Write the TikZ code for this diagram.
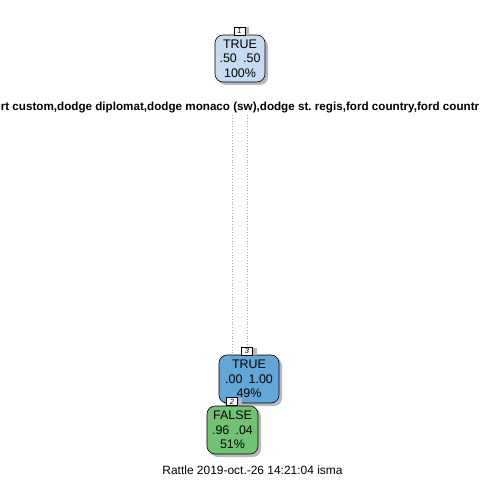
\documentclass[tikz,border=0pt]{standalone}
\usepackage{fontspec}
\setmainfont{Liberation Sans}
\setsansfont{Liberation Sans}
\usetikzlibrary{backgrounds}
\frenchspacing
\begin{document}
\begin{tikzpicture}[x=1bp,y=-1bp,
  box/.style={draw=black, line width=0.6bp, rounded corners=8bp, inner sep=0pt,
    align=center, font=\fontsize{12.5}{14.5}\selectfont},
  shadowbox/.style={fill=black!28, rounded corners=8bp},
  lab/.style={draw=black, line width=0.5bp, fill=white, inner sep=0pt,
    minimum width=11bp, minimum height=8bp, font=\fontsize{7.5}{7.5}\selectfont\itshape},
  labshadow/.style={fill=black!28},
  edge/.style={draw=black!35, line width=0.8bp, dotted},
  split/.style={font=\fontsize{11.7}{12}\selectfont\bfseries, inner sep=0pt}
]
\clip (0,0) rectangle (480,480);
\begin{scope}[on background layer]
\fill[white] (0,0) rectangle (480,480);
\end{scope}

% split label
\node[split] (sp) at (240,108) {rt custom,dodge diplomat,dodge monaco (sw),dodge st. regis,ford country,ford countr};

% edge start points (below the split label)
\coordinate (el) at (232,115);
\coordinate (er) at (247,115);

% node 1
\fill[shadowbox] (218,38) rectangle (268,85);
\node[box, fill={rgb,255:red,198;green,219;blue,239}, minimum width=50bp, minimum height=47bp] (n1) at (240,58.5) {TRUE\\.50\enspace.50\\100\%};
\fill[labshadow] (239,27.5) rectangle (249,35);
\node[lab] (l1) at (239.5,31) {1};

% node 3
\fill[shadowbox] (222,358) rectangle (282,406);
\node[box, fill={rgb,255:red,98;green,167;blue,214}, minimum width=60bp, minimum height=48bp] (n3) at (249,379) {TRUE\\.00\enspace1.00\\49\%};
\fill[labshadow] (247,347.5) rectangle (257,355);
\node[lab] (l3) at (247,351) {3};

% node 2
\fill[shadowbox] (210,409) rectangle (261,457);
\node[box, fill={rgb,255:red,113;green,195;blue,115}, minimum width=51bp, minimum height=48bp] (n2) at (232.5,430) {FALSE\\.96\enspace.04\\51\%};
\fill[labshadow] (232,397.5) rectangle (242,405);
\node[lab] (l2) at (232,401.5) {2};

% edges (behind the nodes)
\begin{scope}[on background layer]
\draw[edge] (el) -- (l2.north);
\draw[edge] (er) -- (l3.north);
\end{scope}

% footer
\node[font=\fontsize{12}{12}\selectfont, inner sep=0pt] (ft) at (252.5,470) {Rattle 2019-oct.-26 14:21:04 isma};
\end{tikzpicture}
\end{document}
